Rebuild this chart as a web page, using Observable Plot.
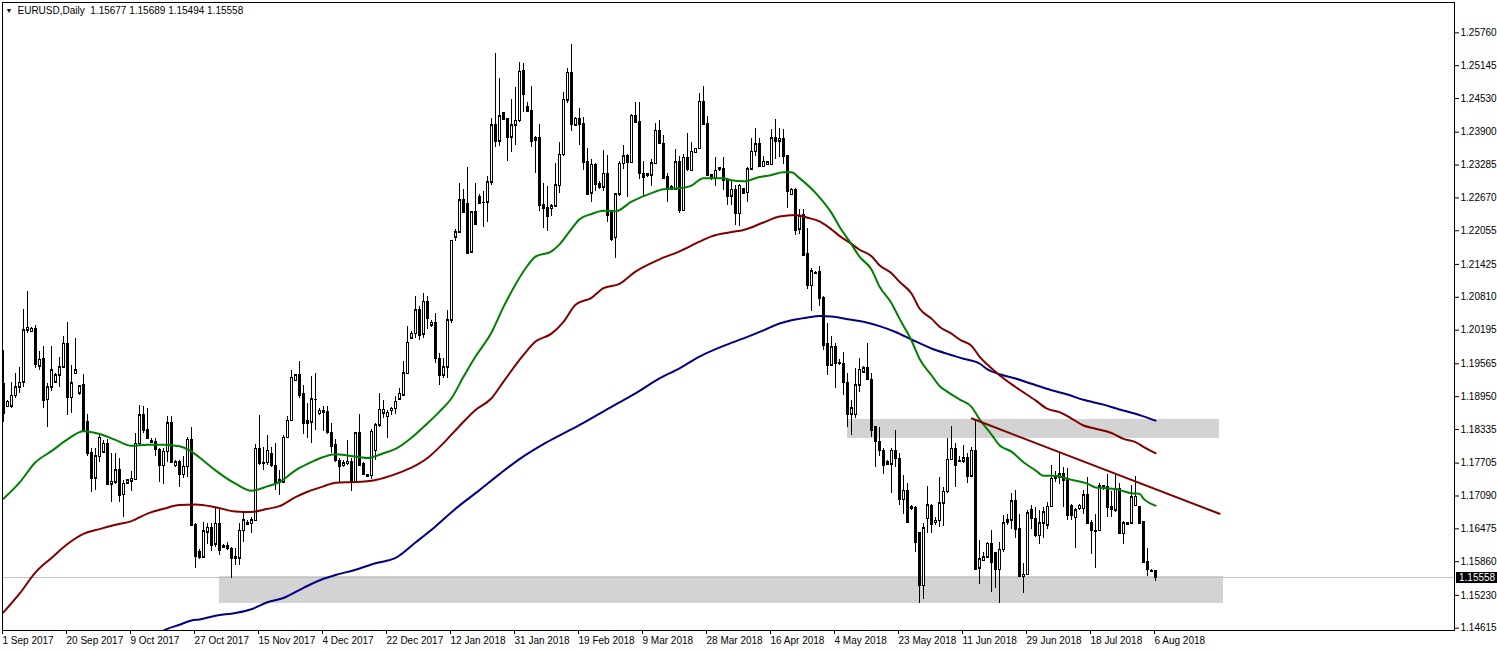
<!DOCTYPE html>
<html><head><meta charset="utf-8">
<script src="https://cdn.jsdelivr.net/npm/d3@7"></script>
<script src="https://cdn.jsdelivr.net/npm/@observablehq/plot@0.6"></script>
<style>html,body{margin:0;padding:0;background:#fff;overflow:hidden}</style>
</head><body><div id="chart"></div>
<script>
const open = [
1.1918,1.1876,1.1877,1.1897,1.1913,1.1922,1.2019,1.2016,1.2022,1.1952,
1.1965,1.1889,1.1913,1.1922,1.1935,1.1950,1.1994,1.1893,1.1938,1.1901,
1.1916,1.1847,1.1789,1.1742,1.1782,1.1791,1.1807,1.1731,1.1735,1.1757,
1.1711,1.1733,1.1737,1.1739,1.1807,1.1860,1.1832,1.1812,1.1810,1.1796,
1.1766,1.1792,1.1846,1.1766,1.1772,1.1749,1.1764,1.1814,1.1654,1.1605,
1.1594,1.1641,1.1650,1.1619,1.1657,1.1613,1.1616,1.1610,1.1592,1.1592,
1.1644,1.1658,1.1657,1.1663,1.1797,1.1770,1.1771,1.1787,1.1766,1.1735,
1.1735,1.1818,1.1850,1.1925,1.1935,1.1900,1.1850,1.1847,1.1890,1.1863,
1.1868,1.1867,1.1827,1.1804,1.1775,1.1766,1.1769,1.1773,1.1736,1.1826,
1.1769,1.1748,1.1747,1.1794,1.1841,1.1864,1.1857,1.1869,1.1872,1.1890,
1.1898,1.1938,1.2004,1.2013,1.2057,1.2012,1.2073,1.2029,1.2032,1.1966,
1.1935,1.1950,1.2038,1.2193,1.2203,1.2264,1.2256,1.2165,1.2240,1.2268,
1.2259,1.2259,1.2296,1.2403,1.2373,1.2426,1.2414,1.2381,1.2403,1.2411,
1.2505,1.2437,1.2430,1.2375,1.2379,1.2254,1.2248,1.2247,1.2251,1.2290,
1.2348,1.2450,1.2500,1.2403,1.2415,1.2405,1.2334,1.2276,1.2329,1.2293,
1.2287,1.2312,1.2242,1.2192,1.2274,1.2331,1.2346,1.2333,1.2420,1.2409,
1.2312,1.2309,1.2309,1.2331,1.2393,1.2368,1.2306,1.2287,1.2283,1.2334,
1.2243,1.2342,1.2318,1.2352,1.2359,1.2447,1.2405,1.2309,1.2304,1.2323,
1.2322,1.2301,1.2270,1.2282,1.2237,1.2283,1.2277,1.2321,1.2353,1.2367,
1.2325,1.2329,1.2329,1.2379,1.2373,1.2378,1.2345,1.2273,1.2282,1.2208,
1.2235,1.2162,1.2103,1.2127,1.2128,1.2079,1.1993,1.1954,1.1987,1.1958,
1.1957,1.1921,1.1862,1.1861,1.1916,1.1941,1.1948,1.1927,1.1838,1.1811,
1.1794,1.1772,1.1768,1.1794,1.1779,1.1702,1.1719,1.1688,1.1687,1.1639,
1.1541,1.1666,1.1691,1.1659,1.1663,1.1695,1.1717,1.1777,1.1797,1.1775,
1.1774,1.1780,1.1746,1.1794,1.1574,1.1588,1.1594,1.1620,1.1602,1.1571,
1.1608,1.1660,1.1664,1.1700,1.1647,1.1558,1.1562,1.1683,1.1666,1.1635,
1.1658,1.1654,1.1689,1.1741,1.1744,1.1750,1.1741,1.1691,1.1668,1.1685,
1.1685,1.1710,1.1658,1.1644,1.1644,1.1727,1.1726,1.1689,1.1682,1.1722,
1.1638,1.1658,1.1658,1.1691,1.1688,1.1660,1.1586,1.1569,1.15677];
const high = [
1.1982,1.1888,1.1922,1.1938,1.1949,1.2058,1.2091,1.2025,1.2029,1.1979,
1.1988,1.1919,1.1988,1.1938,1.1969,1.2007,1.2034,1.1954,1.2004,1.1916,
1.1936,1.1861,1.1797,1.1797,1.1822,1.1813,1.1814,1.1788,1.1788,1.1779,
1.1738,1.1739,1.1754,1.1826,1.1879,1.1876,1.1872,1.1816,1.1816,1.1797,
1.1797,1.1858,1.1858,1.1775,1.1775,1.1782,1.1818,1.1838,1.1657,1.1608,
1.1660,1.1658,1.1658,1.1685,1.1688,1.1619,1.1622,1.1613,1.1610,1.1657,
1.1676,1.1663,1.1669,1.1805,1.1860,1.1800,1.1822,1.1800,1.1807,1.1757,
1.1822,1.1858,1.1944,1.1936,1.1961,1.1916,1.1882,1.1932,1.1939,1.1872,
1.1876,1.1877,1.1844,1.1814,1.1779,1.1775,1.1812,1.1779,1.1827,1.1862,
1.1772,1.1750,1.1833,1.1844,1.1900,1.1888,1.1869,1.1875,1.1895,1.1910,
1.1960,1.2026,1.2016,1.2082,1.2063,1.2088,1.2082,1.2037,1.2051,1.1976,
1.1966,1.2057,1.2188,1.2207,1.2294,1.2282,1.2323,1.2241,1.2294,1.2273,
1.2279,1.2307,1.2415,1.2537,1.2491,1.2427,1.2416,1.2451,1.2473,1.2521,
1.2519,1.2445,1.2475,1.2382,1.2404,1.2294,1.2288,1.2254,1.2332,1.2370,
1.2465,1.2510,1.2554,1.2418,1.2434,1.2418,1.2360,1.2338,1.2331,1.2298,
1.2356,1.2346,1.2242,1.2275,1.2335,1.2365,1.2348,1.2423,1.2445,1.2445,
1.2335,1.2313,1.2338,1.2406,1.2412,1.2383,1.2313,1.2290,1.2358,1.2345,
1.2348,1.2387,1.2370,1.2360,1.2463,1.2475,1.2420,1.2310,1.2343,1.2324,
1.2342,1.2302,1.2298,1.2290,1.2292,1.2285,1.2323,1.2378,1.2397,1.2379,
1.2345,1.2335,1.2395,1.2413,1.2397,1.2395,1.2346,1.2285,1.2285,1.2246,
1.2245,1.2210,1.2134,1.2130,1.2138,1.2082,1.2031,1.2007,1.1995,1.1964,
1.1977,1.1938,1.1888,1.1948,1.1966,1.1951,1.1995,1.1938,1.1838,1.1838,
1.1797,1.1775,1.1797,1.1831,1.1788,1.1747,1.1733,1.1691,1.1690,1.1639,
1.1657,1.1726,1.1693,1.1669,1.1743,1.1725,1.1816,1.1839,1.1808,1.1782,
1.1804,1.1788,1.1799,1.1851,1.1625,1.1604,1.1622,1.1644,1.1604,1.1622,
1.1672,1.1674,1.1713,1.1720,1.1674,1.1582,1.1682,1.1691,1.1688,1.1682,
1.1688,1.1697,1.1767,1.1755,1.1788,1.1762,1.1760,1.1694,1.1685,1.1693,
1.1719,1.1744,1.1664,1.1675,1.1732,1.1729,1.1750,1.1717,1.1747,1.1732,
1.1662,1.1660,1.1729,1.1745,1.1690,1.1661,1.1610,1.1572,1.15689];
const low = [
1.1847,1.1874,1.1872,1.1891,1.1900,1.1913,1.2013,1.2015,1.1947,1.1944,
1.1872,1.1837,1.1904,1.1919,1.1913,1.1947,1.1860,1.1864,1.1936,1.1897,
1.1829,1.1782,1.1716,1.1719,1.1772,1.1788,1.1729,1.1696,1.1731,1.1697,
1.1668,1.1731,1.1718,1.1738,1.1804,1.1826,1.1814,1.1809,1.1782,1.1735,
1.1731,1.1772,1.1770,1.1763,1.1724,1.1741,1.1744,1.1652,1.1574,1.1591,
1.1593,1.1619,1.1605,1.1613,1.1597,1.1610,1.1607,1.1554,1.1579,1.1579,
1.1622,1.1654,1.1638,1.1662,1.1766,1.1756,1.1766,1.1763,1.1719,1.1710,
1.1733,1.1816,1.1849,1.1924,1.1891,1.1825,1.1816,1.1808,1.1831,1.1860,
1.1829,1.1825,1.1788,1.1772,1.1735,1.1763,1.1767,1.1718,1.1735,1.1766,
1.1747,1.1744,1.1739,1.1775,1.1838,1.1854,1.1816,1.1860,1.1862,1.1888,
1.1896,1.1937,1.2002,1.2004,1.2001,1.2004,1.2020,1.2024,1.1957,1.1916,
1.1929,1.1929,1.2032,1.2185,1.2201,1.2238,1.2163,1.2163,1.2216,1.2254,
1.2212,1.2221,1.2290,1.2362,1.2363,1.2412,1.2335,1.2352,1.2366,1.2408,
1.2426,1.2426,1.2362,1.2313,1.2242,1.2210,1.2204,1.2232,1.2250,1.2276,
1.2345,1.2443,1.2391,1.2400,1.2365,1.2319,1.2271,1.2258,1.2279,1.2282,
1.2279,1.2221,1.2185,1.2154,1.2270,1.2320,1.2268,1.2332,1.2407,1.2301,
1.2270,1.2306,1.2288,1.2329,1.2367,1.2301,1.2258,1.2281,1.2282,1.2238,
1.2242,1.2317,1.2317,1.2350,1.2357,1.2404,1.2307,1.2300,1.2289,1.2317,
1.2281,1.2253,1.2253,1.2215,1.2213,1.2275,1.2258,1.2320,1.2345,1.2323,
1.2323,1.2327,1.2327,1.2338,1.2342,1.2329,1.2248,1.2271,1.2196,1.2199,
1.2157,1.2095,1.2054,1.2123,1.2063,1.1982,1.1935,1.1952,1.1910,1.1954,
1.1898,1.1837,1.1823,1.1854,1.1902,1.1940,1.1925,1.1818,1.1762,1.1782,
1.1749,1.1766,1.1714,1.1763,1.1691,1.1675,1.1657,1.1682,1.1604,1.1508,
1.1516,1.1639,1.1639,1.1654,1.1650,1.1652,1.1714,1.1776,1.1725,1.1772,
1.1770,1.1733,1.1744,1.1572,1.1543,1.1587,1.1593,1.1529,1.1535,1.1507,
1.1604,1.1654,1.1647,1.1629,1.1558,1.1527,1.1560,1.1647,1.1632,1.1619,
1.1630,1.1647,1.1688,1.1735,1.1730,1.1688,1.1664,1.1664,1.1610,1.1682,
1.1674,1.1655,1.1600,1.1574,1.1643,1.1719,1.1669,1.1669,1.1679,1.1637,
1.1619,1.1654,1.1655,1.1690,1.1655,1.1582,1.1558,1.1565,1.15494];
const close = [
1.1863,1.1885,1.1897,1.1913,1.1921,1.2019,1.2024,1.2022,1.1955,1.1964,
1.1887,1.1913,1.1944,1.1935,1.1950,1.1994,1.1893,1.1920,1.1944,1.1914,
1.1832,1.1789,1.1742,1.1783,1.1818,1.1807,1.1731,1.1736,1.1757,1.1710,
1.1732,1.1738,1.1741,1.1807,1.1860,1.1831,1.1816,1.1810,1.1796,1.1766,
1.1792,1.1845,1.1772,1.1772,1.1749,1.1764,1.1814,1.1654,1.1596,1.1594,
1.1643,1.1650,1.1616,1.1657,1.1607,1.1616,1.1610,1.1592,1.1594,1.1644,
1.1664,1.1655,1.1664,1.1797,1.1769,1.1771,1.1794,1.1766,1.1732,1.1738,
1.1818,1.1850,1.1930,1.1935,1.1897,1.1845,1.1845,1.1890,1.1890,1.1869,
1.1866,1.1827,1.1802,1.1775,1.1764,1.1770,1.1773,1.1736,1.1826,1.1767,
1.1750,1.1745,1.1829,1.1841,1.1870,1.1870,1.1865,1.1872,1.1885,1.1900,
1.1939,1.1996,1.2013,1.2057,1.2010,1.2073,1.2042,1.2033,1.1966,1.1935,
1.1950,1.2038,1.2187,1.2203,1.2263,1.2239,1.2163,1.2240,1.2218,1.2256,
1.2259,1.2296,1.2403,1.2373,1.2420,1.2413,1.2380,1.2403,1.2411,1.2503,
1.2460,1.2429,1.2373,1.2379,1.2252,1.2248,1.2233,1.2251,1.2291,1.2348,
1.2451,1.2501,1.2404,1.2415,1.2405,1.2334,1.2274,1.2329,1.2292,1.2287,
1.2312,1.2234,1.2190,1.2274,1.2331,1.2345,1.2333,1.2421,1.2408,1.2312,
1.2306,1.2311,1.2332,1.2393,1.2368,1.2304,1.2285,1.2283,1.2334,1.2243,
1.2342,1.2320,1.2353,1.2359,1.2447,1.2405,1.2309,1.2304,1.2318,1.2320,
1.2300,1.2270,1.2282,1.2237,1.2290,1.2276,1.2321,1.2353,1.2367,1.2325,
1.2335,1.2334,1.2379,1.2373,1.2378,1.2345,1.2279,1.2282,1.2206,1.2232,
1.2160,1.2103,1.2130,1.2126,1.2079,1.1991,1.1954,1.1987,1.1957,1.1957,
1.1921,1.1861,1.1873,1.1916,1.1945,1.1948,1.1927,1.1832,1.1811,1.1794,
1.1767,1.1768,1.1794,1.1779,1.1702,1.1719,1.1660,1.1686,1.1622,1.1541,
1.1649,1.1692,1.1655,1.1663,1.1695,1.1717,1.1777,1.1797,1.1766,1.1774,
1.1780,1.1746,1.1794,1.1572,1.1591,1.1594,1.1620,1.1584,1.1571,1.1608,
1.1658,1.1664,1.1699,1.1647,1.1558,1.1562,1.1677,1.1666,1.1635,1.1658,
1.1679,1.1689,1.1741,1.1744,1.1750,1.1738,1.1672,1.1672,1.1682,1.1691,
1.1710,1.1658,1.1644,1.1643,1.1727,1.1725,1.1688,1.1683,1.1722,1.1638,
1.1658,1.1655,1.1707,1.1708,1.1657,1.1585,1.1572,1.1568,1.15558];

// moving averages: [bar, value]
const maFast = [[0,1.1704],[4,1.1734],[8,1.1772],[12,1.1793],[16,1.1815],[20,1.1830],[24,1.1825],[28,1.1814],[32,1.1803],[36,1.1805],[40,1.1805],[44,1.1802],[47,1.1792],[50,1.1775],[53,1.1757],[58,1.1732],[62,1.1719],[66,1.1727],[69,1.1735],[73,1.1757],[76,1.1769],[80,1.1782],[83,1.1787],[86,1.1785],[91,1.1780],[95,1.1789],[98,1.1797],[102,1.1818],[106,1.1845],[109,1.1867],[112,1.1892],[115,1.1932],[118,1.1970],[122,1.2015],[125,1.2063],[128,1.2105],[131,1.2140],[133,1.2157],[137,1.2167],[139,1.2180],[142,1.2209],[144,1.2227],[147,1.2237],[150,1.2243],[153,1.2242],[157,1.2260],[162,1.2276],[165,1.2283],[169,1.2285],[172,1.2290],[175,1.2304],[180,1.2304],[182,1.2300],[185,1.2298],[189,1.2306],[192,1.2310],[195,1.2315],[197,1.2315],[199,1.2304],[202,1.2284],[204,1.2268],[207,1.2239],[209,1.2213],[212,1.2180],[214,1.2157],[217,1.2133],[219,1.2101],[222,1.2070],[224,1.2041],[227,1.2000],[229,1.1966],[232,1.1935],[234,1.1915],[236,1.1904],[239,1.1890],[242,1.1876],[244,1.1853],[247,1.1824],[249,1.1804],[252,1.1792],[255,1.1772],[258,1.1757],[260,1.1747],[263,1.1747],[266,1.1741],[269,1.1736],[271,1.1732],[273,1.1725],[275,1.1724],[278,1.1722],[280,1.1718],[282,1.1714],[284,1.1713],[285,1.1704],[288,1.1691]];
const maMid = [[0,1.1491],[4,1.1526],[8,1.1566],[12,1.1593],[16,1.1619],[20,1.1638],[24,1.1647],[28,1.1655],[32,1.1662],[36,1.1676],[40,1.1685],[44,1.1692],[48,1.1693],[53,1.1688],[58,1.1680],[62,1.1679],[66,1.1685],[69,1.1690],[73,1.1707],[76,1.1717],[80,1.1727],[83,1.1734],[88,1.1735],[93,1.1739],[98,1.1750],[102,1.1762],[106,1.1780],[110,1.1808],[114,1.1840],[118,1.1870],[122,1.1892],[125,1.1923],[130,1.1973],[133,1.1998],[137,1.2013],[140,1.2035],[143,1.2067],[147,1.2080],[150,1.2098],[154,1.2106],[158,1.2129],[164,1.2152],[169,1.2167],[174,1.2185],[177,1.2195],[182,1.2203],[185,1.2207],[190,1.2221],[194,1.2232],[198,1.2235],[201,1.2230],[204,1.2223],[207,1.2208],[209,1.2196],[212,1.2181],[214,1.2170],[217,1.2158],[219,1.2141],[222,1.2126],[224,1.2110],[227,1.2088],[229,1.2060],[232,1.2041],[234,1.2026],[237,1.2013],[239,1.2002],[242,1.1990],[244,1.1970],[247,1.1948],[249,1.1935],[253,1.1913],[258,1.1888],[261,1.1872],[264,1.1866],[267,1.1854],[270,1.1841],[273,1.1835],[277,1.1827],[280,1.1816],[283,1.1810],[285,1.1801],[288,1.1789]];
const maSlow = [[38,1.1448],[40,1.1457],[44,1.1468],[47,1.1476],[49,1.1478],[53,1.1485],[58,1.1490],[62,1.1497],[66,1.1510],[70,1.1518],[75,1.1537],[80,1.1554],[83,1.1561],[88,1.1571],[93,1.1583],[98,1.1593],[103,1.1622],[108,1.1652],[113,1.1685],[119,1.1720],[124,1.1750],[129,1.1778],[135,1.1806],[140,1.1826],[145,1.1846],[152,1.1876],[158,1.1901],[164,1.1929],[169,1.1948],[174,1.1970],[180,1.1990],[185,1.2004],[190,1.2019],[194,1.2032],[197,1.2038],[201,1.2043],[204,1.2046],[207,1.2045],[211,1.2040],[215,1.2035],[219,1.2027],[223,1.2016],[227,1.2002],[232,1.1985],[236,1.1975],[240,1.1966],[244,1.1957],[246,1.1946],[249,1.1937],[253,1.1929],[257,1.1919],[262,1.1907],[266,1.1899],[270,1.1889],[275,1.1880],[279,1.1871],[283,1.1863],[285,1.1858],[288,1.1850]];

// drawn objects
const zoneBars = [[54, 304.9], [211, 304]];
const zonePrices = [[1.1508, 1.1558], [1.1817, 1.1852]];
const trendBars = [242.1, 304];
const trendPrices = [1.1854, 1.16757];
const lastPrice = 1.15558;

const xTickBars = [0,16,32,48,64,80,96,112,128,144,160,176,192,208,224,240,256,272,288];
const xTickLabels = ["1 Sep 2017","20 Sep 2017","9 Oct 2017","27 Oct 2017","15 Nov 2017","4 Dec 2017","22 Dec 2017","12 Jan 2018","31 Jan 2018","19 Feb 2018","9 Mar 2018","28 Mar 2018","16 Apr 2018","4 May 2018","23 May 2018","11 Jun 2018","29 Jun 2018","18 Jul 2018","6 Aug 2018"];
const yTicks = [1.25760,1.25145,1.24530,1.23900,1.23285,1.22670,1.22055,1.21425,1.20810,1.20195,1.19565,1.18950,1.18335,1.17705,1.17090,1.16475,1.15860,1.15230,1.14615];
const header = "EURUSD,Daily\u00a0\u00a01.15677 1.15689 1.15494 1.15558";

const candles = open.map((o, i) => ({i, o, h: high[i], l: low[i], c: close[i], up: close[i] >= o}));
const zones = zoneBars.map((b, j) => ({x1: b[0], x2: b[1], y1: zonePrices[j][0], y2: zonePrices[j][1]}));
const trend = trendBars.map((b, j) => ({x: b, y: trendPrices[j]}));

const crisp = {shapeRendering: "crispEdges"};
const plot = Plot.plot({
  width: 1497, height: 651,
  marginLeft: 2, marginRight: 43, marginTop: 2, marginBottom: 21,
  style: {fontFamily: "'Liberation Sans', Arial, sans-serif", fontSize: "10px", color: "#000", background: "#fff"},
  x: {domain: [-0.25, 362.75]},
  y: {domain: [1.14572, 1.26328]},
  marks: [
    Plot.rect(zones, {x1: "x1", x2: "x2", y1: "y1", y2: "y2", fill: "#d3d3d3", ...crisp}),
    Plot.ruleY([lastPrice], {stroke: "#c0c0c0", strokeWidth: 1, ...crisp}),
    Plot.ruleX(candles, {x: "i", y1: "l", y2: "h", stroke: "#000", strokeWidth: 1, ...crisp}),
    Plot.rect(candles, {x1: d => d.i - 0.25, x2: d => d.i + 0.25, y1: "o", y2: "c", fill: d => d.up ? "#ffffff" : "#000000", stroke: "#000", strokeWidth: 1, ...crisp}),
    Plot.ruleY(candles, {y: "o", x1: d => d.i - 0.375, x2: d => d.i + 0.375, stroke: "#000", strokeWidth: 1, ...crisp}),
    Plot.ruleY(candles, {y: "c", x1: d => d.i - 0.375, x2: d => d.i + 0.375, stroke: "#000", strokeWidth: 1, ...crisp}),
    Plot.line(maSlow, {x: d => d[0], y: d => d[1], stroke: "#000080", strokeWidth: 2, curve: "monotone-x", clip: true}),
    Plot.line(maMid, {x: d => d[0], y: d => d[1], stroke: "#800000", strokeWidth: 2, curve: "monotone-x", clip: true}),
    Plot.line(maFast, {x: d => d[0], y: d => d[1], stroke: "#008000", strokeWidth: 2, curve: "monotone-x", clip: true}),
    Plot.line(trend, {x: "x", y: "y", stroke: "#800000", strokeWidth: 2}),
    Plot.axisX({ticks: xTickBars, tickFormat: d => xTickLabels[xTickBars.indexOf(d)], tickSize: 4, tickPadding: 2, textAnchor: "start", dx: -1, label: null}),
    Plot.axisY({anchor: "right", ticks: yTicks, tickFormat: d => d.toFixed(5), tickSize: 4, tickPadding: 2, label: null}),
    Plot.frame({stroke: "#000", ...crisp}),
    Plot.text(["\u25BC"], {text: d => d, frameAnchor: "top-left", dx: 3, dy: 6, fontSize: 7, textAnchor: "start", lineAnchor: "top"}),
    Plot.text([header], {text: d => d, frameAnchor: "top-left", dx: 15, dy: 4, textAnchor: "start", lineAnchor: "top"})
  ]
});

// current price marker on the price axis, positioned with Plot's y scale
const py = Math.round(plot.scale("y").apply(lastPrice));
const g = d3.select(plot).append("g").attr("text-anchor", "start");
g.append("rect").attr("x", 1456).attr("y", py - 5).attr("width", 41).attr("height", 11).attr("fill", "#000");
g.append("text").attr("x", 1459).attr("y", py + 0.5).attr("dominant-baseline", "central")
  .attr("text-anchor", "start").attr("fill", "#fff").attr("font-size", 10)
  .attr("font-family", "'Liberation Sans', Arial, sans-serif").text(lastPrice.toFixed(5));

document.getElementById("chart").appendChild(plot);
</script>
</body></html>
